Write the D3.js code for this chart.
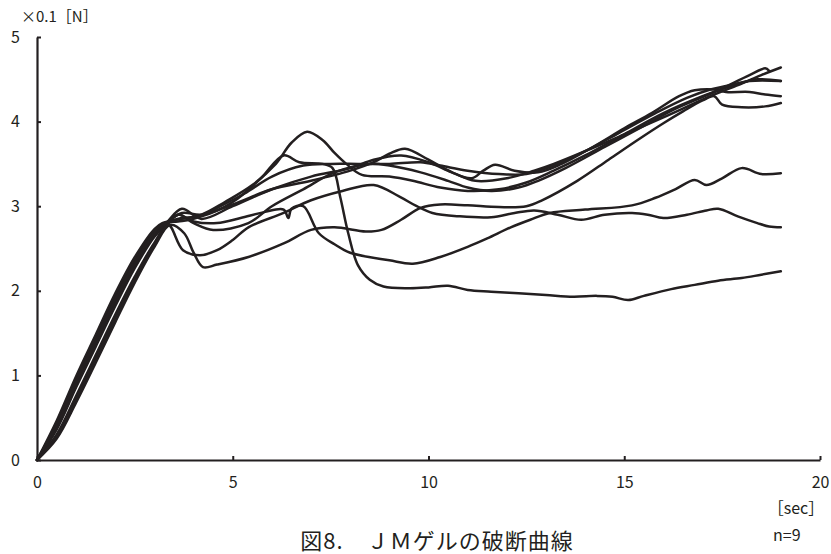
<!DOCTYPE html>
<html>
<head>
<meta charset="utf-8">
<script src="https://cdn.jsdelivr.net/npm/d3@7"></script>
<style>
  body { margin: 0; background: #fff; }
  text { font-family: "Noto Sans CJK JP", "Noto Sans", sans-serif; fill: #231f20; }
</style>
</head>
<body>
<div class="graphics"></div>
<script>
// time [sec], force [x0.1 N], one array per specimen
var specimen1 = [[0,0],[0.5,0.42],[1,0.95],[1.5,1.43],[2,1.93],[2.5,2.36],[3,2.7],[3.3,2.8],[3.7,2.86],[4.2,2.88],[5,3.05],[5.7,3.32],[6.3,3.6],[6.7,3.52],[7.3,3.5],[7.55,3.45],[7.75,3.1],[7.95,2.68],[8.2,2.3],[8.5,2.13],[8.85,2.05],[9.5,2.03],[10,2.04],[10.5,2.06],[11,2.01],[11.6,1.99],[12.3,1.97],[13,1.95],[13.7,1.93],[14.3,1.94],[14.7,1.93],[15.1,1.89],[15.5,1.94],[16.2,2.02],[16.8,2.07],[17.4,2.12],[18,2.15],[18.5,2.19],[19,2.23]];
var specimen2 = [[0,0],[0.5,0.25],[1,0.68],[1.5,1.15],[2,1.63],[2.5,2.1],[3,2.52],[3.4,2.78],[3.76,2.68],[4,2.45],[4.24,2.28],[4.6,2.31],[5.4,2.4],[6.3,2.56],[7,2.72],[7.6,2.75],[8.4,2.7],[8.8,2.72],[9.3,2.84],[9.8,2.98],[10.3,3.02],[11,3.01],[11.8,2.99],[12.5,3.0],[12.9,3.07],[13.8,3.3],[14.6,3.55],[15.4,3.8],[16,3.98],[16.5,4.12],[17,4.25],[17.3,4.3],[17.5,4.2],[18,4.17],[18.6,4.18],[19,4.22]];
var specimen3 = [[0,0],[0.5,0.36],[1,0.86],[1.5,1.34],[2,1.82],[2.5,2.27],[3,2.64],[3.3,2.78],[3.6,2.9],[4,2.82],[4.6,2.8],[5.2,2.86],[5.8,2.93],[6.3,2.96],[6.42,2.86],[6.5,2.97],[6.8,3.0],[7.2,2.68],[7.6,2.55],[8,2.45],[9,2.36],[9.6,2.32],[10.3,2.4],[11,2.52],[11.5,2.62],[12.1,2.75],[12.6,2.84],[13.1,2.92],[14,2.96],[15.2,3.01],[15.8,3.1],[16.3,3.2],[16.8,3.31],[17.1,3.25],[17.5,3.33],[18,3.45],[18.5,3.38],[19,3.39]];
var specimen4 = [[0,0],[0.5,0.3],[1,0.76],[1.5,1.24],[2,1.72],[2.5,2.17],[3,2.57],[3.35,2.78],[3.73,2.48],[4.16,2.42],[4.6,2.48],[5,2.6],[5.4,2.75],[6.3,2.92],[7,3.07],[7.8,3.18],[8.6,3.25],[9.27,3.11],[9.7,3.0],[10.1,2.92],[10.8,2.88],[11.6,2.87],[12.2,2.92],[12.7,2.95],[13.3,2.9],[13.9,2.84],[14.5,2.9],[15.2,2.92],[15.6,2.9],[16,2.86],[16.6,2.9],[17.1,2.95],[17.4,2.97],[17.9,2.88],[18.4,2.8],[18.7,2.76],[19,2.75]];
var specimen5 = [[0,0],[0.5,0.46],[1,0.99],[1.5,1.48],[2,1.97],[2.5,2.4],[3,2.73],[3.2,2.8],[3.7,2.85],[4.2,2.9],[4.8,3.05],[5.5,3.25],[6.1,3.5],[6.5,3.75],[6.9,3.88],[7.3,3.78],[7.6,3.63],[7.9,3.5],[8.3,3.37],[9,3.35],[9.6,3.3],[10.3,3.22],[11,3.18],[11.8,3.2],[12.5,3.28],[13.2,3.42],[14,3.6],[15,3.85],[16,4.1],[17,4.3],[17.8,4.43],[18.4,4.5],[19,4.48]];
var specimen6 = [[0,0],[0.5,0.4],[1,0.9],[1.5,1.38],[2,1.86],[2.5,2.3],[3,2.67],[3.3,2.8],[3.7,2.92],[4.2,2.9],[5,3.02],[6,3.2],[7,3.3],[8,3.42],[8.6,3.52],[9,3.62],[9.4,3.68],[10,3.55],[10.6,3.4],[11.1,3.33],[11.4,3.42],[11.7,3.49],[12.2,3.42],[12.8,3.4],[13.4,3.5],[14.2,3.7],[15,3.92],[15.7,4.1],[16.4,4.3],[16.8,4.37],[17.3,4.38],[17.6,4.35],[18.2,4.35],[18.6,4.32],[19,4.3]];
var specimen7 = [[0,0],[0.5,0.38],[1,0.88],[1.5,1.36],[2,1.85],[2.5,2.3],[3,2.66],[3.3,2.8],[3.7,2.97],[4.2,2.85],[5,3.0],[6,3.2],[7,3.35],[8,3.45],[8.6,3.55],[9.3,3.6],[10,3.52],[10.6,3.4],[11.2,3.3],[12,3.33],[12.7,3.42],[13.2,3.5],[14,3.65],[15,3.85],[16,4.05],[17.2,4.3],[18,4.45],[18.5,4.55],[19,4.64]];
var specimen8 = [[0,0],[0.5,0.28],[1,0.72],[1.5,1.2],[2,1.68],[2.5,2.14],[3,2.55],[3.3,2.76],[3.6,2.9],[4,2.8],[4.5,2.72],[5.4,2.8],[6,3.0],[6.8,3.2],[7.6,3.4],[8.5,3.5],[9,3.48],[9.8,3.4],[10.5,3.3],[11,3.22],[11.6,3.18],[12.3,3.22],[12.8,3.3],[13.5,3.45],[14.5,3.7],[15.5,3.95],[16.3,4.15],[17.3,4.35],[18.2,4.55],[18.6,4.63],[18.7,4.6]];
var specimen9 = [[0,0],[0.5,0.42],[1,0.93],[1.5,1.41],[2,1.9],[2.5,2.33],[3,2.69],[3.25,2.8],[3.6,2.82],[4,2.85],[4.6,2.98],[5.3,3.15],[6,3.35],[6.8,3.48],[7.5,3.5],[8.2,3.5],[9,3.5],[9.8,3.52],[10.3,3.48],[11,3.42],[11.8,3.38],[12.5,3.38],[13.2,3.48],[14,3.65],[14.8,3.85],[15.8,4.1],[16.6,4.28],[17.2,4.38],[17.6,4.42],[18.2,4.48],[19,4.48]];

var xTicks = [0, 5, 10, 15, 20];
var yTicks = [0, 1, 2, 3, 4, 5];

var specimens = [specimen1, specimen2, specimen3, specimen4, specimen5,
                 specimen6, specimen7, specimen8, specimen9];

var w = 831, h = 554;
var ink = "#231f20";

var svg = d3.select('.graphics')
    .append('svg')
    .attr("width", w)
    .attr("height", h);

var xScale = d3.scaleLinear().domain([0, 20]).range([37, 820]);
var yScale = d3.scaleLinear().domain([0, 5]).range([460, 37]);

// axes, ticks point inward
var xAxis = d3.axisBottom(xScale)
    .tickValues(xTicks)
    .tickFormat(d3.format("d"))
    .tickSize(-4)
    .tickSizeOuter(0)
    .tickPadding(17);

var yAxis = d3.axisLeft(yScale)
    .tickValues(yTicks)
    .tickFormat(d3.format("d"))
    .tickSize(-4)
    .tickSizeOuter(0)
    .tickPadding(17);

var gx = svg.append("g")
    .attr("transform", "translate(0," + yScale(0) + ")")
    .call(xAxis);

var gy = svg.append("g")
    .attr("transform", "translate(" + xScale(0) + ",0)")
    .call(yAxis);

[gx, gy].forEach(function(g){
    g.select(".domain").attr("stroke", ink).attr("stroke-width", 2.2);
    g.selectAll(".tick line").attr("stroke", ink).attr("stroke-width", 2);
    g.selectAll(".tick text")
        .attr("fill", ink)
        .style("font-family", '"Noto Sans CJK JP", sans-serif')
        .style("font-size", "16px");
});

var line = d3.line()
    .x(function(d){ return xScale(d[0]); })
    .y(function(d){ return yScale(d[1]); })
    .curve(d3.curveCatmullRom.alpha(0.5));

svg.append("g")
    .selectAll("path")
    .data(specimens)
    .enter()
    .append("path")
    .attr("d", line)
    .attr("fill", "none")
    .attr("stroke", ink)
    .attr("stroke-width", 2.5)
    .attr("stroke-linejoin", "round")
    .attr("stroke-linecap", "round");

// labels
svg.append("text")
    .attr("x", 21)
    .attr("y", 22)
    .style("font-size", "15px")
    .text("×0.1［N］");

svg.append("text")
    .attr("x", 796)
    .attr("y", 514)
    .attr("text-anchor", "middle")
    .style("font-size", "16px")
    .text("［sec］");

svg.append("text")
    .attr("x", 773)
    .attr("y", 541)
    .style("font-size", "16px")
    .text("n=9");

svg.append("text")
    .attr("x", 437)
    .attr("y", 549)
    .attr("text-anchor", "middle")
    .style("font-size", "22px")
    .style("letter-spacing", "1px")
    .text("図8.　ＪＭゲルの破断曲線");
</script>
</body>
</html>
